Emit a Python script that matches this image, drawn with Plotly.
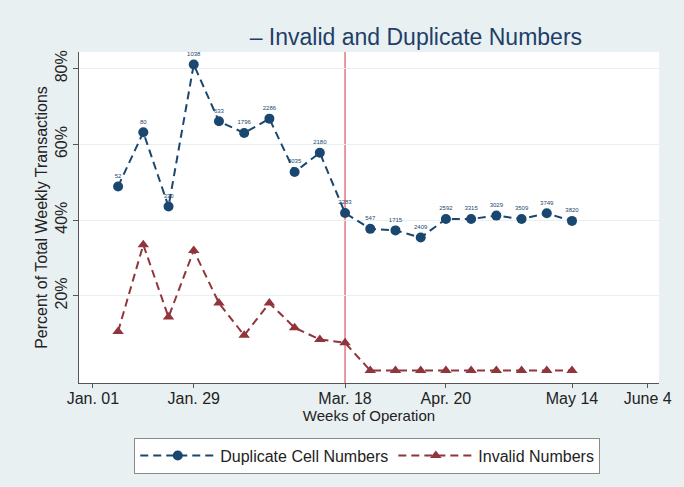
import plotly.graph_objects as go

# Week index of each observation (week 0 = Jan. 01)
weeks = list(range(1, 20))

# Share of weekly transactions flagged (percent)
duplicate_pct = [48.9, 63.2, 43.6, 81.1, 66.1, 63.0, 66.8, 52.7, 57.8, 41.9,
                 37.7, 37.3, 35.4, 40.3, 40.3, 41.2, 40.3, 41.8, 39.8]
invalid_pct = [10.6, 33.5, 14.4, 32.0, 18.1, 9.6, 18.1, 11.6, 8.5, 7.6,
               0.3, 0.3, 0.3, 0.3, 0.3, 0.3, 0.3, 0.3, 0.3]

# Weekly count of duplicate cell numbers shown above each point
duplicate_counts = ["52", "80", "330", "1038", "633", "1796", "2286", "3035", "2180",
                    "2283", "547", "1715", "2409", "2592", "3315", "3029", "3509",
                    "3749", "3820"]

# Axis ticks
x_tickvals = [0, 4, 10, 14, 19, 22]
x_ticktext = ["Jan. 01", "Jan. 29", "Mar. 18", "Apr. 20", "May 14", "June 4"]
y_tickvals = [20, 40, 60, 80]
y_ticktext = ["20%", "40%", "60%", "80%"]
policy_week = 10

BLUE = "#1a476f"
RED = "#90353b"
BG = "#e9f0f2"
FONT = "Liberation Sans, Arial, sans-serif"

fig = go.Figure()

fig.add_trace(go.Scatter(
    x=weeks, y=duplicate_pct, name="Duplicate Cell Numbers",
    mode="lines+markers+text", text=duplicate_counts,
    textposition="top center", textfont=dict(size=6, color=BLUE),
    line=dict(color=BLUE, width=2, dash="8px,5px"),
    marker=dict(color=BLUE, size=10, symbol="circle"),
    cliponaxis=False,
))

fig.add_trace(go.Scatter(
    x=weeks, y=invalid_pct, name="Invalid Numbers",
    mode="lines+markers",
    line=dict(color=RED, width=2, dash="8px,5px"),
    marker=dict(color=RED, size=10, symbol="triangle-up"),
    cliponaxis=False,
))

fig.add_vline(x=policy_week, line=dict(color="#e0505f", width=1.2), layer="below")

fig.update_layout(
    width=684, height=487,
    margin=dict(l=79, r=21, t=52, b=104),
    paper_bgcolor=BG, plot_bgcolor="white",
    font=dict(family=FONT, color="#222222", size=15),
    title=dict(text="\u2013 Invalid and Duplicate Numbers", x=0.608, xanchor="center",
               y=0.925, yanchor="middle",
               font=dict(size=23, color="#1f3f68", family=FONT)),
    showlegend=True,
    legend=dict(orientation="h", x=0.497, xanchor="center", y=-0.165, yanchor="top",
                bgcolor="white", bordercolor="#8a8a8a", borderwidth=1,
                font=dict(size=16, color="#222222"),
                itemwidth=75, tracegroupgap=0),
)

fig.update_xaxes(
    range=[-0.55, 22.45], tickvals=x_tickvals, ticktext=x_ticktext,
    showgrid=False, zeroline=False,
    showline=True, linecolor="#555555", linewidth=1,
    ticks="outside", ticklen=4, tickcolor="#555555",
    tickfont=dict(size=16), ticklabelstandoff=-3,
    title=dict(text="Weeks of Operation", font=dict(size=15), standoff=0),
)

fig.update_yaxes(
    range=[-3.0, 84.4], tickvals=y_tickvals, ticktext=y_ticktext,
    tickangle=-90, tickfont=dict(size=16),
    showgrid=True, gridcolor="#e8f0f1", gridwidth=1.2, zeroline=False,
    showline=True, linecolor="#555555", linewidth=1,
    ticks="outside", ticklen=5, tickcolor="#555555",
    title=dict(text="Percent of Total Weekly Transactions", font=dict(size=16), standoff=0),
)

fig.write_html("out.html")
